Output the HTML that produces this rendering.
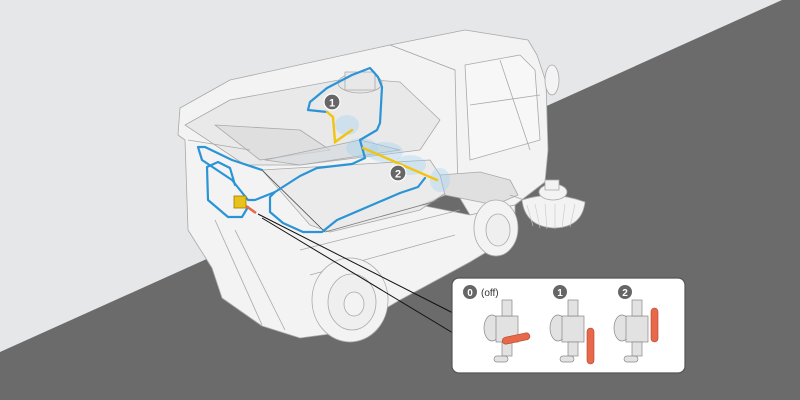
<!DOCTYPE html>
<html><head><meta charset="utf-8"><style>
html,body{margin:0;padding:0;width:800px;height:400px;overflow:hidden;background:#e6e7e9}
svg{display:block}
text{font-family:"Liberation Sans",sans-serif}
</style></head><body>
<svg width="800" height="400" viewBox="0 0 800 400" xmlns="http://www.w3.org/2000/svg">
<rect width="800" height="400" fill="#e6e7e9"/>
<polygon points="0,352 782,0 800,0 800,400 0,400" fill="#6b6b6b"/>

<!-- truck body -->
<g stroke="#a9a9a9" stroke-width="0.8" fill="#f3f3f3" stroke-linejoin="round">
  <polygon points="390,45 465,30 528,40 537,55 546,82 548,150 545,182 515,205 470,215 455,190 455,70"/>
  <polygon points="465,65 520,55 535,70 540,140 470,160" fill="#f7f7f7"/>
  <line x1="500" y1="60" x2="530" y2="150"/>
  <line x1="470" y1="105" x2="540" y2="95"/>
  <polygon points="180,108 230,80 390,45 455,70 458,190 420,205 470,215 515,205 515,235 470,262 400,300 345,332 300,338 262,326 222,298 212,268 188,230 185,140 178,135"/>
  <polygon points="185,125 230,100 350,78 400,82 440,120 420,150 300,165 245,165" fill="#e2e2e2" fill-opacity="0.6"/>
  <polygon points="215,125 300,130 330,150 260,160" fill="#d8d8d8" fill-opacity="0.6"/>
  <polygon points="265,160 360,140 400,150 300,165" fill="#d4dade" fill-opacity="0.7"/>
  <ellipse cx="360" cy="83" rx="22" ry="10" fill="#e6e6e6"/>
  <rect x="345" y="72" width="30" height="18" fill="#e8e8e8"/>
  <polygon points="262,170 430,160 450,190 420,210 330,232 310,225" fill="#e8e8e8" fill-opacity="0.8"/>
  <line x1="262" y1="170" x2="325" y2="232" stroke="#444"/>
  <line x1="325" y1="232" x2="440" y2="200" stroke="#777"/>
  <polygon points="440,175 480,172 510,180 518,195 495,205 470,200 445,195" fill="#e0e0e0"/>
  <line x1="510" y1="195" x2="530" y2="202"/>
  <line x1="188" y1="140" x2="250" y2="150"/>
  <line x1="215" y1="220" x2="262" y2="325"/>
  <line x1="235" y1="230" x2="285" y2="330"/>
  <line x1="300" y1="250" x2="460" y2="210"/>
  <line x1="310" y1="275" x2="455" y2="235"/>
  <ellipse cx="350" cy="300" rx="38" ry="42"/>
  <ellipse cx="352" cy="302" rx="24" ry="28" fill="#efefef"/>
  <ellipse cx="354" cy="304" rx="10" ry="12"/>
  <ellipse cx="496" cy="228" rx="22" ry="28"/>
  <ellipse cx="498" cy="230" rx="12" ry="16" fill="#efefef"/>
  <ellipse cx="552" cy="80" rx="7" ry="15"/>
  <path d="M522,200 Q553,190 585,202 Q582,228 553,228 Q525,226 522,200 Z"/>
  <ellipse cx="553" cy="192" rx="14" ry="8"/>
  <rect x="545" y="180" width="14" height="10"/>
</g>
<g stroke="#c9c9c9" stroke-width="0.6">
  <line x1="527" y1="205" x2="533" y2="226"/><line x1="535" y1="204" x2="540" y2="228"/>
  <line x1="545" y1="204" x2="547" y2="229"/><line x1="555" y1="204" x2="555" y2="229"/>
  <line x1="565" y1="204" x2="562" y2="228"/><line x1="575" y1="204" x2="570" y2="227"/>
</g>

<g fill="#9fd0f0" fill-opacity="0.35">
  <ellipse cx="347" cy="125" rx="12" ry="10"/>
  <ellipse cx="362" cy="148" rx="16" ry="10"/>
  <ellipse cx="385" cy="152" rx="18" ry="10"/>
  <ellipse cx="410" cy="165" rx="16" ry="10"/>
  <ellipse cx="440" cy="180" rx="10" ry="12"/>
</g>

<g fill="none" stroke="#2a94d6" stroke-width="2.2" stroke-linejoin="round" stroke-linecap="round">
  <path d="M327,112 L308,110 L310,102 L327,88 L352,75 L370,68 L378,77 L382,87 L380,123 L377,130 L360,140 L365,158 L352,164 L317,168 L300,176 L275,192 L270,197 L270,212 L283,223 L303,232 L322,232 L337,220 L400,193 L418,187 L425,178"/>
  <path d="M275,192 L255,200 L248,200 L232,180 L202,160 L198,147 L205,147 L232,160 L262,170"/>
  <path d="M248,207 L242,217 L228,217 L208,200 L207,167 L218,162 L230,168 L235,185"/>
</g>
<g fill="none" stroke="#f2c40f" stroke-width="2.4" stroke-linecap="round">
  <path d="M327,112 L333,117 L335,142 L352,130"/>
  <path d="M363,148 L437,180"/>
</g>
<rect x="234" y="196" width="12" height="12" fill="#e8c21a" stroke="#9b7d00" stroke-width="0.8"/>
<line x1="246" y1="206" x2="256" y2="213" stroke="#e4684a" stroke-width="2.5"/>

<g>
  <circle cx="332" cy="102" r="8" fill="#666" stroke="#fff" stroke-width="1.2"/>
  <text x="332" y="106.5" font-size="11" font-weight="bold" fill="#fff" text-anchor="middle">1</text>
  <circle cx="398" cy="173" r="8" fill="#666" stroke="#fff" stroke-width="1.2"/>
  <text x="398" y="177.5" font-size="11" font-weight="bold" fill="#fff" text-anchor="middle">2</text>
</g>

<!-- callout -->
<line x1="258" y1="214" x2="453" y2="313" stroke="#111" stroke-width="1"/>
<line x1="262" y1="218" x2="453" y2="333" stroke="#111" stroke-width="1"/>
<rect x="452" y="278" width="233" height="95" rx="7" fill="#fff" stroke="#555" stroke-width="1.2"/>

<g font-size="10">
  <circle cx="470" cy="292" r="7" fill="#666"/><text x="470" y="296" fill="#fff" font-weight="bold" text-anchor="middle">0</text>
  <text x="481" y="296" fill="#333">(off)</text>
  <circle cx="560" cy="292" r="7" fill="#666"/><text x="560" y="296" fill="#fff" font-weight="bold" text-anchor="middle">1</text>
  <circle cx="625" cy="292" r="7" fill="#666"/><text x="625" y="296" fill="#fff" font-weight="bold" text-anchor="middle">2</text>
</g>
<g stroke="#888" stroke-width="0.7" fill="#e2e2e2">
  <g>
    <ellipse cx="492" cy="328" rx="8" ry="13"/>
    <rect x="496" y="316" width="22" height="26"/>
    <rect x="502" y="300" width="10" height="16"/>
    <rect x="502" y="342" width="10" height="14"/>
    <rect x="494" y="356" width="14" height="6" rx="3"/>
  </g>
  <g transform="translate(66,0)">
    <ellipse cx="492" cy="328" rx="8" ry="13"/>
    <rect x="496" y="316" width="22" height="26"/>
    <rect x="502" y="300" width="10" height="16"/>
    <rect x="502" y="342" width="10" height="14"/>
    <rect x="494" y="356" width="14" height="6" rx="3"/>
  </g>
  <g transform="translate(130,0)">
    <ellipse cx="492" cy="328" rx="8" ry="13"/>
    <rect x="496" y="316" width="22" height="26"/>
    <rect x="502" y="300" width="10" height="16"/>
    <rect x="502" y="342" width="10" height="14"/>
    <rect x="494" y="356" width="14" height="6" rx="3"/>
  </g>
</g>
<g fill="#e8684a" stroke="#b2442b" stroke-width="0.6">
  <rect x="502" y="335" width="28" height="7" rx="3.5" transform="rotate(-12 516 338)"/>
  <rect x="587" y="328" width="7" height="36" rx="3.5"/>
  <rect x="651" y="308" width="7" height="34" rx="3.5"/>
</g>
</svg>
</body></html>
